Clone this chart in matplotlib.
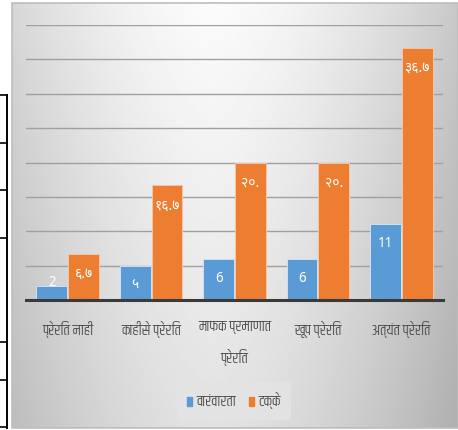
import matplotlib
matplotlib.use("Agg")
import numpy as np
import matplotlib.pyplot as plt
from matplotlib.lines import Line2D
from matplotlib.patches import Patch, Rectangle

categories = ["प्रेरित नाही", "काहीसे प्रेरित", "माफक प्रमाणात\nप्रेरित", "खूप प्रेरित", "अत्यंत प्रेरित"]
freq = [2, 5, 6, 6, 11]
percent = [6.7, 16.7, 20, 20, 36.7]
freq_labels = ["2", "५", "6", "6", "11"]
percent_labels = ["६.७", "१६.७", "२०.", "२०.", "३६.७"]
legend_names = ["वारंवारता", "टक्के"]

BLUE = "#5B9BD5"
ORANGE = "#ED7D31"
DEV = ["Noto Sans Devanagari", "DejaVu Sans"]
NARROW = ["Khand", "Noto Sans Devanagari", "DejaVu Sans"]

W, H = 458, 430
fig = plt.figure(figsize=(W / 100, H / 100), dpi=100)
fig.patch.set_facecolor("white")


def fx(px):
    return px / W


def fy(py):
    return 1 - py / H


# grey gradient panel behind the chart
bg = fig.add_axes([fx(12), fy(428), fx(458) - fx(12), fy(3) - fy(428)], zorder=0)
gx = np.linspace(-1, 1, 300)
gy = np.linspace(0, 1, 300)
GX, GY = np.meshgrid(gx, gy)
shade = 0.985 - 0.17 * np.abs(GX + 0.1) ** 1.6 - 0.10 * GY
bg.imshow(shade, cmap="gray", vmin=0, vmax=1, aspect="auto", extent=[0, 1, 1, 0])
bg.set_axis_off()
fig.add_artist(Rectangle((fx(12), fy(428)), fx(458) - fx(12), fy(3) - fy(428),
                         transform=fig.transFigure, fill=False, edgecolor="#bdbdbd", lw=1.2, zorder=1))

ax = fig.add_axes([fx(26), fy(300), fx(443) - fx(26), fy(25) - fy(300)], zorder=2)
ax.patch.set_alpha(0)

x = np.arange(len(categories))
w = 0.37
ax.bar(x - 0.19, freq, w, color=BLUE, edgecolor="#cfe0f1", linewidth=0.7, zorder=3)
ax.bar(x + 0.19, percent, w, color=ORANGE, edgecolor="#f6c6a4", linewidth=0.7, zorder=3)

for xi, v, s in zip(x - 0.19, freq, freq_labels):
    dy = -14 if v > 4 else 3
    ax.annotate(s, (xi, v), xytext=(0, dy), textcoords="offset points", ha="center", va="center",
                color="white", fontsize=10, family=DEV, zorder=4)
for xi, v, s in zip(x + 0.19, percent, percent_labels):
    ax.annotate(s, (xi, v), xytext=(0, -15), textcoords="offset points", ha="center", va="center",
                color="white", fontsize=10, family=DEV, zorder=4)

ax.set_xlim(-0.5, len(categories) - 0.5)
ax.set_ylim(0, 40)
ax.set_yticks(np.arange(5, 41, 5))
ax.yaxis.grid(True, color="#a0a0a0", linewidth=1.0, zorder=1)
ax.set_axisbelow(True)
ax.tick_params(axis="y", left=False, labelleft=False)
ax.set_xticks(x)
ax.set_xticklabels(categories, family=NARROW, fontsize=10.5, color="#4a4a4a", linespacing=2.1)
ax.tick_params(axis="x", length=0, pad=15)
for side in ["top", "right", "left"]:
    ax.spines[side].set_visible(False)
ax.spines["bottom"].set_color("#3a3a3a")
ax.spines["bottom"].set_linewidth(2.2)
ax.spines["bottom"].set_zorder(5)

handles = [Patch(color=BLUE), Patch(color=ORANGE)]
leg = fig.legend(handles, legend_names, loc="center", bbox_to_anchor=(fx(234), fy(401)), ncol=2,
                 prop={"family": NARROW, "size": 10.5}, handlelength=0.35, handleheight=0.55,
                 handletextpad=0.3, columnspacing=0.9, frameon=True, fancybox=False,
                 borderpad=0.7)
leg.get_frame().set_facecolor("#e4e4e4")
leg.get_frame().set_edgecolor("none")
for t in leg.get_texts():
    t.set_color("#4a4a4a")

# edge of the neighbouring table on the left
fig.add_artist(Line2D([fx(6.5), fx(6.5)], [fy(95), fy(428)], transform=fig.transFigure, color="black", lw=1.4))
for yy in [95, 143, 190, 238, 342, 380, 427]:
    fig.add_artist(Line2D([0, fx(7)], [fy(yy), fy(yy)], transform=fig.transFigure, color="black", lw=1.2))

fig.savefig("out.png", dpi=100)
